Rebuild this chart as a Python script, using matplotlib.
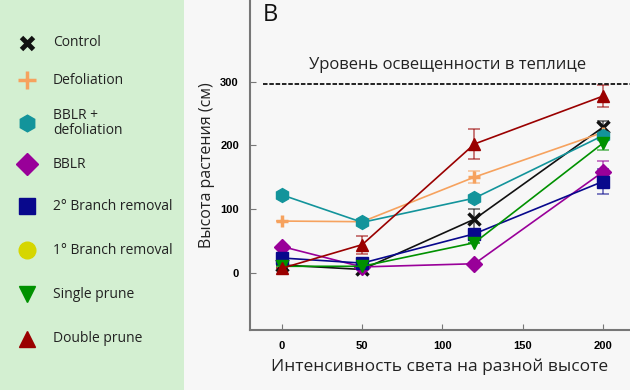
import matplotlib.pyplot as plt

plt.rcParams['font.family'] = ['Open Sans', 'DejaVu Sans']

# данные
light = [0, 50, 120, 200]
names = ['Control', 'Defoliation', 'BBLR +\ndefoliation', 'BBLR',
         '2° Branch removal', '1° Branch removal', 'Single prune', 'Double prune']
colors = ['#111111', '#f6a25e', '#13949b', '#990099',
          '#08088c', '#d6d600', '#009100', '#9a0000']
markers = ['x', '+', 'h', 'D', 's', 'o', 'v', '^']

control = [12, 5, 84, 228]
defoliation = [81, 80, 150, 220]
bblr_defol = [122, 79, 117, 215]
bblr = [41, 9, 14, 158]
branch2 = [23, 15, 61, 143]
branch1 = None  # на графике не видно
single = [10, 10, 47, 203]
double = [7, 44, 202, 277]

control_err = [0, 0, 16, 10]
defoliation_err = [0, 0, 10, 0]
bblr_err = [0, 0, 0, 18]
branch2_err = [0, 0, 0, 19]
single_err = [0, 0, 0, 10]
double_err = [0, 14, 23, 17]

greenhouse = 296

fig = plt.figure(figsize=(6.3, 3.9), dpi=100)
fig.patch.set_facecolor('#f7f7f7')

# панель легенды
lax = fig.add_axes([0, 0, 184 / 630, 1])
lax.set_xlim(0, 184)
lax.set_ylim(390, 0)
lax.axis('off')
lax.add_patch(plt.Rectangle((0, 0), 184, 390, color='#d3efd1', zorder=0))
leg_y = [43, 80, 123, 164, 206, 250, 294, 339]
leg_ms = [9, 13, 12, 11, 11, 12, 11, 11]
leg_mew = [3.5, 2.5, 1, 1, 1, 1, 1, 1]
for name, c, m, yy, ms, mew in zip(names, colors, markers, leg_y, leg_ms, leg_mew):
    lax.plot(27, yy, marker=m, color=c, markersize=ms, markeredgewidth=mew, linestyle='none')
    lax.text(53, yy, name, fontsize=10, va='center', ha='left', color='#222222',
             linespacing=1.0)

ax = fig.add_axes([250 / 630, 1 - 330 / 390, 380 / 630, 330 / 390])
ax.set_facecolor('#f7f7f7')

series = [(control, control_err), (defoliation, defoliation_err), (bblr_defol, None),
          (bblr, bblr_err), (branch2, branch2_err), (branch1, None),
          (single, single_err), (double, double_err)]
ms_list = [8, 9, 10, 8.5, 8.5, 8.5, 8.5, 8.5]
for (vals, err), c, m, ms in zip(series, colors, markers, ms_list):
    if vals is None:
        continue
    if err is not None:
        ax.errorbar(light, vals, yerr=err, fmt='none', ecolor=c, alpha=0.6,
                    elinewidth=1.2, capsize=4, capthick=1.2, zorder=2)
    mew = 2.5 if m in ('x', '+') else 1
    ax.plot(light, vals, color=c, marker=m, markersize=ms, markeredgewidth=mew,
            linewidth=1.2, zorder=3)

ax.hlines(greenhouse, -12, 217, colors='#111111', linestyles=(0, (2.5, 1)), linewidth=1.3)
ax.text(103, 326, 'Уровень освещенности в теплице', fontsize=12, ha='center',
        va='center', color='#222222')
ax.text(-12, 405, 'B', fontsize=17, ha='left', va='center', color='#111111')

ax.set_xlim(-20, 217)
ax.set_ylim(-90, 428)
ax.set_xticks([0, 50, 100, 150, 200])
ax.set_yticks([0, 100, 200, 300])
ax.tick_params(axis='both', direction='in', length=4, color='#777777',
               labelsize=8, pad=8)
for lab in ax.get_xticklabels() + ax.get_yticklabels():
    lab.set_fontweight('bold')
    lab.set_family('Liberation Sans')
for s in ['top', 'right']:
    ax.spines[s].set_visible(False)
for s in ['left', 'bottom']:
    ax.spines[s].set_color('#777777')
    ax.spines[s].set_linewidth(1.5)

ax.set_xlabel('Интенсивность света на разной высоте', fontsize=12.5, color='#222222',
              labelpad=5)
ax.set_ylabel('Высота растения (см)', fontsize=11.5, color='#222222', labelpad=4)

fig.savefig('out.png', dpi=100, facecolor=fig.get_facecolor())
